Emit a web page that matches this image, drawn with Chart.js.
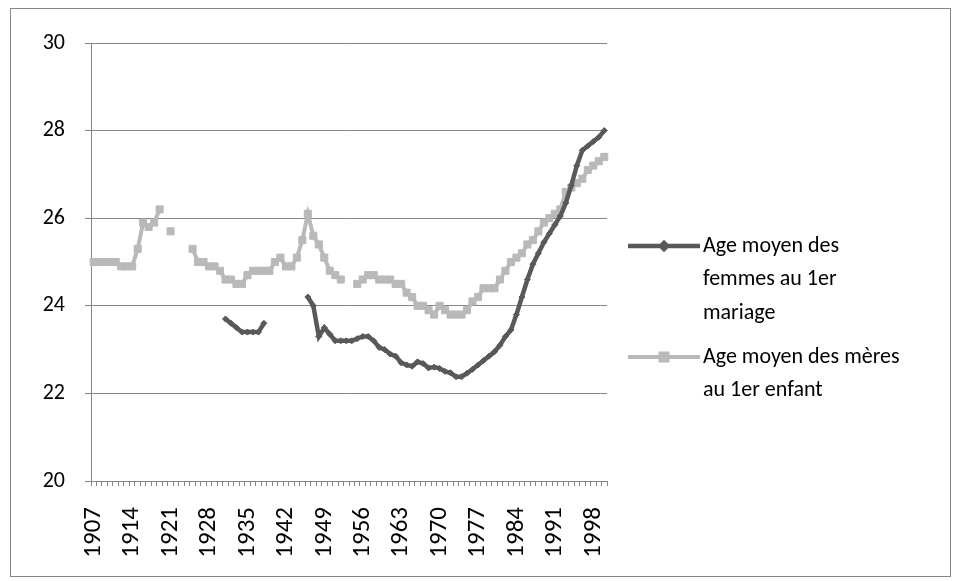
<!DOCTYPE html>
<html>
<head>
<meta charset="utf-8">
<script src="https://cdn.jsdelivr.net/npm/chart.js@4.4.1/dist/chart.umd.min.js"></script>
<style>
  html, body { margin: 0; padding: 0; background: #fff; }
  #wrap { width: 957px; height: 581px; }
</style>
</head>
<body>
<div id="wrap"><canvas id="grafico" width="957" height="581"></canvas></div>
<script>
// Années (axe des catégories) : 1907 à 2000
var annees = [];
for (var a = 1907; a <= 2000; a++) annees.push(String(a));

// Étiquettes affichées sous l'axe (une tous les 7 ans)
var etiquettesAxe = ['1907', '1914', '1921', '1928', '1935', '1942', '1949',
  '1956', '1963', '1970', '1977', '1984', '1991', '1998'];

// Age moyen des femmes au 1er mariage (null = pas de donnée)
var ageMariage = [
  null, null, null, null, null, null, null, null, null, null,   // 1907-1916
  null, null, null, null, null, null, null, null, null, null,   // 1917-1926
  null, null, null, null, 23.7, 23.6, 23.5, 23.4, 23.4, 23.4,   // 1927-1936
  23.4, 23.6, null, null, null, null, null, null, null, 24.2,   // 1937-1946
  24.0, 23.3, 23.5, 23.35, 23.2, 23.2, 23.2, 23.2, 23.25, 23.3, // 1947-1956
  23.3, 23.2, 23.05, 23.0, 22.9, 22.85, 22.7, 22.65, 22.62, 22.72, // 1957-1966
  22.68, 22.58, 22.6, 22.57, 22.5, 22.47, 22.38, 22.38, 22.46, 22.55, // 1967-1976
  22.65, 22.75, 22.85, 22.95, 23.1, 23.3, 23.45, 23.8, 24.2, 24.6, // 1977-1986
  24.95, 25.2, 25.45, 25.65, 25.85, 26.05, 26.35, 26.75, 27.2, 27.55, // 1987-1996
  27.65, 27.75, 27.85, 28.0                                     // 1997-2000
];

// Age moyen des mères au 1er enfant
var ageEnfant = [
  25.0, 25.0, 25.0, 25.0, 25.0, 24.9, 24.9, 24.9, 25.3, 25.9,   // 1907-1916
  25.8, 25.9, 26.2, null, 25.7, null, null, null, 25.3, 25.0,   // 1917-1926
  25.0, 24.9, 24.9, 24.8, 24.6, 24.6, 24.5, 24.5, 24.7, 24.8,   // 1927-1936
  24.8, 24.8, 24.8, 25.0, 25.1, 24.9, 24.9, 25.1, 25.5, 26.1,   // 1937-1946
  25.6, 25.4, 25.1, 24.8, 24.7, 24.6, null, null, 24.5, 24.6,   // 1947-1956
  24.7, 24.7, 24.6, 24.6, 24.6, 24.5, 24.5, 24.3, 24.2, 24.0,   // 1957-1966
  24.0, 23.9, 23.8, 24.0, 23.9, 23.8, 23.8, 23.8, 23.9, 24.1,   // 1967-1976
  24.2, 24.4, 24.4, 24.4, 24.6, 24.8, 25.0, 25.1, 25.2, 25.4,   // 1977-1986
  25.5, 25.7, 25.9, 26.0, 26.1, 26.2, 26.6, 26.7, 26.8, 26.9,   // 1987-1996
  27.1, 27.2, 27.3, 27.4                                        // 1997-2000
];

// Textes de la légende (sur plusieurs lignes)
var legendeMariage = ['Age moyen des', 'femmes au 1er', 'mariage'];
var legendeEnfant = ['Age moyen des mères', 'au 1er enfant'];

var police = 'Carlito, Calibri, Lato, sans-serif';
var gris = '#868686';

// Fond blanc et cadre du graphique
var cadre = {
  id: 'cadre',
  beforeDraw: function (chart) {
    var c = chart.ctx;
    c.save();
    c.fillStyle = '#fff';
    c.fillRect(0, 0, chart.width, chart.height);
    c.strokeStyle = gris;
    c.lineWidth = 1;
    c.strokeRect(10.5, 8.5, 940, 568);
    c.restore();
  }
};

// Légende à droite, textes sur plusieurs lignes
var legende = {
  id: 'legende',
  afterDraw: function (chart) {
    var c = chart.ctx;
    var entrees = [
      { ds: chart.data.datasets[0], lignes: legendeMariage, y: 246 },
      { ds: chart.data.datasets[1], lignes: legendeEnfant, y: 357 }
    ];
    c.save();
    entrees.forEach(function (e) {
      c.strokeStyle = e.ds.borderColor;
      c.lineWidth = e.ds.borderWidth;
      c.beginPath();
      c.moveTo(628, e.y);
      c.lineTo(700, e.y);
      c.stroke();
      Chart.helpers.drawPoint(c, {
        pointStyle: e.ds.pointStyle,
        radius: e.ds.pointRadius,
        borderWidth: e.ds.pointBorderWidth
      }, 664, e.y);
      c.fillStyle = e.ds.pointBackgroundColor;
      c.fill();
      c.fillStyle = '#000';
      c.font = '22px ' + police;
      c.textBaseline = 'middle';
      c.textAlign = 'left';
      e.lignes.forEach(function (t, k) {
        c.fillText(t, 703, e.y + k * 33.5);
      });
    });
    c.restore();
  }
};

var config = {
  type: 'line',
  data: {
    labels: annees,
    datasets: [{
      label: 'Age moyen des femmes au 1er mariage',
      data: ageMariage,
      borderColor: '#595959',
      backgroundColor: '#595959',
      borderWidth: 4.5,
      pointStyle: 'rectRot',
      pointRadius: 3,
      pointBorderWidth: 1,
      pointBackgroundColor: '#595959',
      pointBorderColor: '#595959',
      tension: 0,
      spanGaps: false
    }, {
      label: 'Age moyen des mères au 1er enfant',
      data: ageEnfant,
      borderColor: '#b9b9b9',
      backgroundColor: '#b9b9b9',
      borderWidth: 4,
      pointStyle: 'rect',
      pointRadius: 5,
      pointBorderWidth: 1,
      pointBackgroundColor: '#b9b9b9',
      pointBorderColor: '#b9b9b9',
      tension: 0,
      spanGaps: false
    }]
  },
  options: {
    responsive: false,
    animation: false,
    layout: { padding: { left: 10, right: 350, top: 43, bottom: 10 } },
    plugins: {
      legend: { display: false },
      tooltip: { enabled: false }
    },
    scales: {
      x: {
        offset: true,
        grid: { offset: true, drawOnChartArea: false, drawTicks: true, tickLength: 5, color: gris },
        border: { color: gris, width: 1 },
        ticks: {
          autoSkip: false,
          maxRotation: 90,
          minRotation: 90,
          padding: 21,
          color: '#000',
          font: { family: police, size: 25 },
          callback: function (v, i) {
            var l = annees[i];
            return etiquettesAxe.indexOf(l) >= 0 ? l : '';
          }
        },
        afterFit: function (s) { s.height = 90; }
      },
      y: {
        min: 20,
        max: 30,
        grid: { color: gris, lineWidth: 1, tickLength: 6 },
        border: { color: gris, width: 1 },
        ticks: {
          stepSize: 2,
          padding: 20,
          color: '#000',
          font: { family: police, size: 22 }
        },
        afterFit: function (s) { s.width = 81; }
      }
    }
  },
  plugins: [cadre, legende]
};

var grafico = new Chart(document.getElementById('grafico').getContext('2d'), config);
</script>
</body>
</html>
